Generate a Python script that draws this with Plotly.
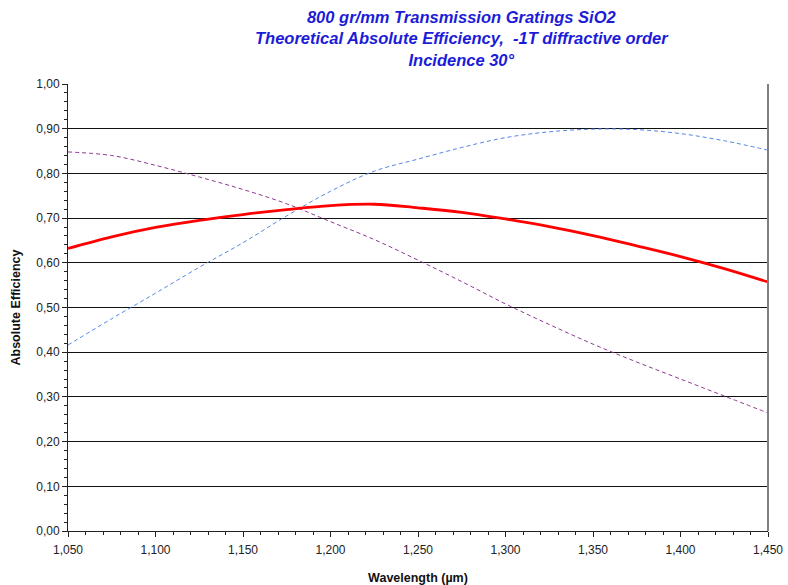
import plotly.graph_objects as go

wavelength = [1.050, 1.075, 1.100, 1.125, 1.150, 1.175, 1.200, 1.225, 1.250,
              1.275, 1.300, 1.325, 1.350, 1.375, 1.400, 1.425, 1.450]
eff_red = [0.632, 0.658, 0.679, 0.695, 0.708, 0.719, 0.728, 0.731, 0.723,
           0.713, 0.698, 0.681, 0.661, 0.638, 0.614, 0.587, 0.557]
eff_blue = [0.416, 0.475, 0.532, 0.590, 0.645, 0.705, 0.760, 0.805, 0.832,
            0.858, 0.880, 0.893, 0.899, 0.898, 0.889, 0.873, 0.852]
eff_purple = [0.848, 0.840, 0.818, 0.792, 0.764, 0.732, 0.692, 0.652, 0.606,
              0.558, 0.508, 0.462, 0.418, 0.378, 0.340, 0.302, 0.264]

x_ticks = [1.05, 1.10, 1.15, 1.20, 1.25, 1.30, 1.35, 1.40, 1.45]
x_ticktext = ["1,050", "1,100", "1,150", "1,200", "1,250", "1,300", "1,350", "1,400", "1,450"]
y_ticks = [0.0, 0.1, 0.2, 0.3, 0.4, 0.5, 0.6, 0.7, 0.8, 0.9, 1.0]
y_ticktext = ["0,00", "0,10", "0,20", "0,30", "0,40", "0,50", "0,60", "0,70", "0,80", "0,90", "1,00"]

title_lines = ["800 gr/mm Transmission Gratings SiO2",
               "Theoretical Absolute Efficiency,  -1T diffractive order",
               "Incidence 30°"]

fig = go.Figure()
fig.add_trace(go.Scatter(x=wavelength, y=eff_blue, mode="lines", line_shape="spline",
                         line=dict(color="#5585e6", width=1, dash="4px,3px"), showlegend=False))
fig.add_trace(go.Scatter(x=wavelength, y=eff_purple, mode="lines", line_shape="spline",
                         line=dict(color="#8e3a8e", width=1, dash="4px,3px"), showlegend=False))
fig.add_trace(go.Scatter(x=wavelength, y=eff_red, mode="lines", line_shape="spline",
                         line=dict(color="#ff0000", width=2.8), showlegend=False))

font_family = "Liberation Sans, Arial, sans-serif"

fig.update_layout(
    width=788, height=585,
    margin=dict(l=68, r=20, t=84, b=54, autoexpand=False),
    paper_bgcolor="white", plot_bgcolor="white",
    font=dict(family=font_family, size=12, color="#222222"),
    showlegend=False,
)

fig.add_annotation(
    text="<br>".join(f"<b><i>{t}</i></b>" for t in title_lines),
    xref="paper", yref="paper", x=(462 - 68) / 700, y=1 + (84 - 6) / 447,
    xanchor="center", yanchor="top", showarrow=False, align="center",
    font=dict(family=font_family, size=16.5, color="#1c1cd8"),
)

fig.update_xaxes(
    range=[1.05, 1.45], tickvals=x_ticks, ticktext=x_ticktext,
    showgrid=False, zeroline=False, automargin=False,
    showline=True, linecolor="#222222", linewidth=1, mirror=False,
    ticks="outside", ticklen=5, tickcolor="#222222", ticklabelstandoff=3,
    minor=dict(dtick=0.01, ticks="outside", ticklen=3, tickcolor="#222222", showgrid=False),
    tickfont=dict(size=12, color="#222222"),
    title=dict(text="<b>Wavelength (µm)</b>", font=dict(size=12.5, color="#111111"), standoff=16),
)
fig.update_yaxes(
    range=[0, 1.0], tickvals=y_ticks, ticktext=y_ticktext,
    showgrid=True, gridcolor="#111111", gridwidth=1, zeroline=False, automargin=False,
    showline=True, linecolor="#222222", linewidth=1,
    ticks="outside", ticklen=5, tickcolor="#222222",
    minor=dict(dtick=0.02, ticks="outside", ticklen=3, tickcolor="#222222", showgrid=False),
    tickfont=dict(size=12, color="#222222"),
    title=dict(text="<b>Absolute Efficiency</b>", font=dict(size=12.5, color="#111111"), standoff=12),
)

# right border of the plot frame (gray)
fig.add_shape(type="line", xref="paper", yref="paper", x0=1, x1=1, y0=0, y1=1,
              line=dict(color="#808080", width=2))

fig.write_html("out.html")
